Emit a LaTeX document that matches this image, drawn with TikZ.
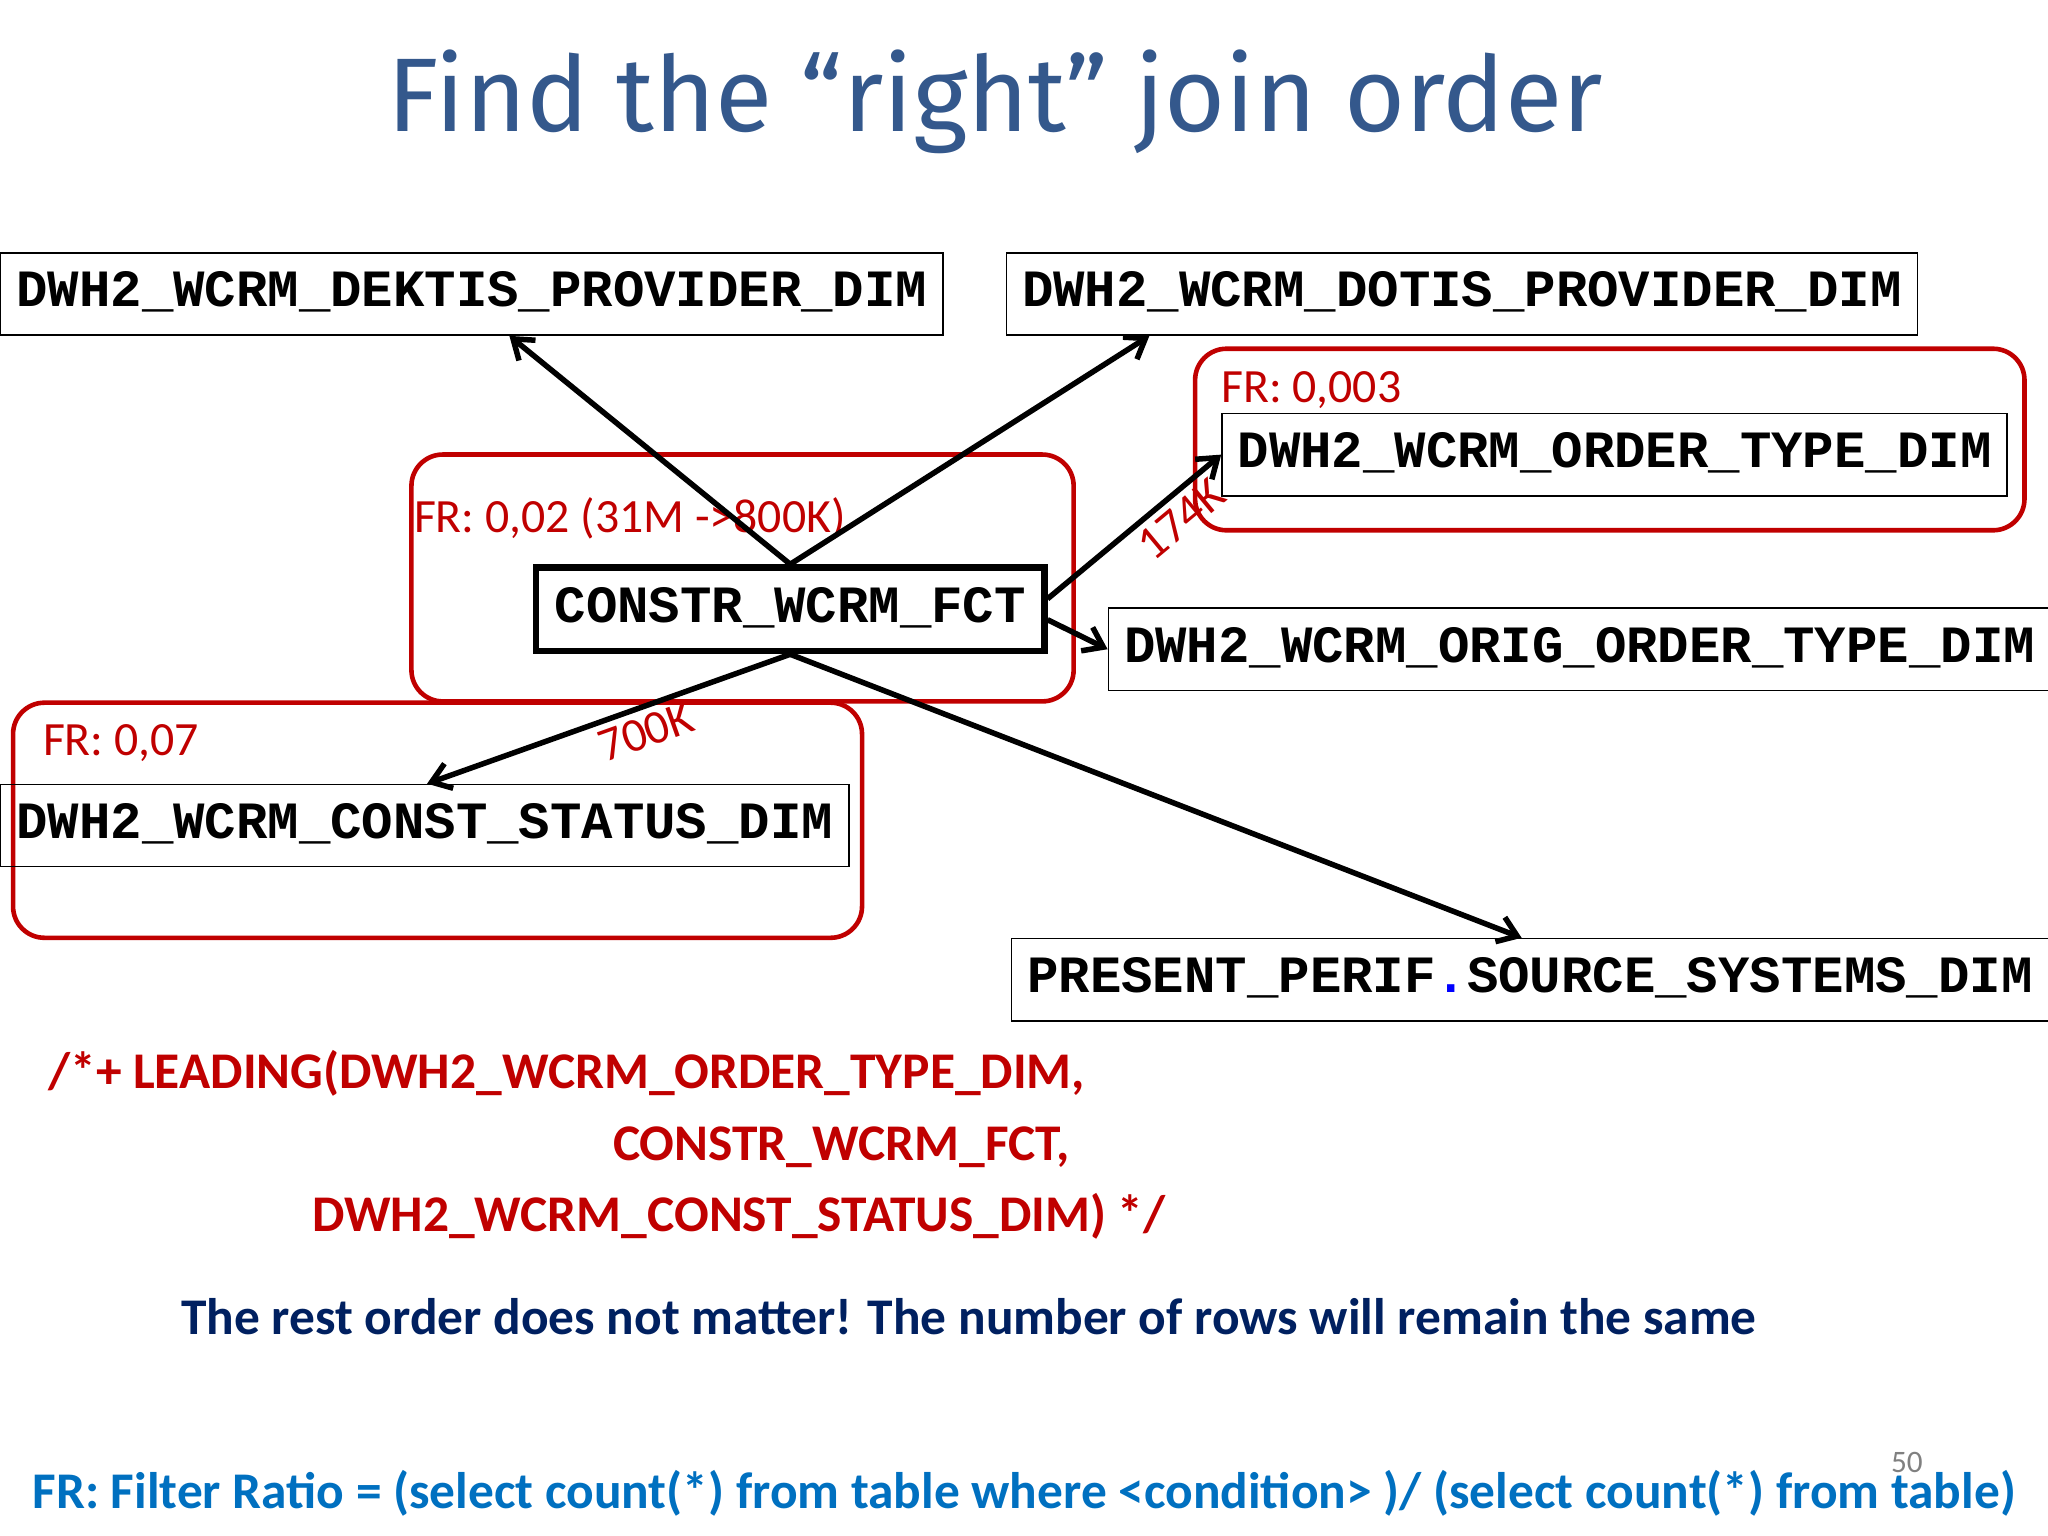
\documentclass[tikz,border=0pt]{standalone}
\usepackage{fontspec}
\setmainfont{Carlito}
\newfontfamily\monof{Liberation Mono}
\newfontfamily\titlef{Fira Sans}
\usetikzlibrary{arrows.meta,calc}
\definecolor{frred}{RGB}{192,0,0}
\definecolor{titleblue}{RGB}{52,88,140}
\definecolor{navy}{RGB}{0,32,96}
\definecolor{lblue}{RGB}{0,112,192}
\tikzset{
  tbl/.style={draw, thick, anchor=north west, font=\monof\bfseries\fontsize{28.5}{30}\selectfont,
    inner xsep=0.3cm, minimum height=1.575cm, text height=0.6cm},
  grp/.style={draw=frred, line width=2.5pt, rounded corners=0.6cm},
  fr/.style={text=frred, anchor=west, font=\fontsize{26}{30}\selectfont},
  joinarrow/.style={line width=3pt, -{Straight Barb[length=0.35cm,width=0.5cm]}},
  hint/.style={text=frred, font=\bfseries\fontsize{28}{32}\selectfont},
}
\begin{document}
\begin{tikzpicture}[x=0.025cm,y=-0.025cm]
  \useasboundingbox (0,0) rectangle (1568,1176);
  \node[text=titleblue, font=\titlef\fontsize{57}{66}\selectfont] (title) at (762,78) {Find the “right” join order};

  % filter groups
  \draw[grp] (915,267) rectangle (1550,406);
  \draw[grp] (315,348) rectangle (822,537);
  \draw[grp] (10,538) rectangle (660,718);
  \node[fr] (fr1) at (930,299) {FR: 0,003};
  \node[fr] (fr2) at (312,397) {FR: 0,02 (31M ->800K)};
  \node[fr] (fr3) at (28,569) {FR: 0,07};

  % tables
  \node[tbl, minimum width=17.925cm] (dektis) at (0,193) {DWH2\_WCRM\_DEKTIS\_PROVIDER\_DIM};
  \node[tbl, minimum width=17.35cm] (dotis) at (770,193) {DWH2\_WCRM\_DOTIS\_PROVIDER\_DIM};
  \node[tbl, minimum width=14.975cm] (ordtype) at (935,316) {DWH2\_WCRM\_ORDER\_TYPE\_DIM};
  \node[tbl, line width=3.5pt, minimum width=9.725cm, minimum height=1.6cm] (fct) at (408,432) {CONSTR\_WCRM\_FCT};
  \node[tbl, minimum width=17.925cm] (orig) at (848,465) {DWH2\_WCRM\_ORIG\_ORDER\_TYPE\_DIM};
  \node[tbl, minimum width=16.15cm] (status) at (0,600) {DWH2\_WCRM\_CONST\_STATUS\_DIM};
  \node[tbl, minimum width=19.7cm] (present) at (774,718) {PRESENT\_PERIF{\color{blue}.}SOURCE\_SYSTEMS\_DIM};

  % joins
  \draw[joinarrow] (fct.north) -- ($(dektis.south west)+(390,0)$);
  \draw[joinarrow] (fct.north) -- ($(dotis.south west)+(110,0)$);
  \draw[joinarrow] ($(fct.east)+(0,-8)$) -- node[pos=0.68, sloped, below, text=frred, font=\fontsize{26}{30}\selectfont] {174K} (ordtype.west);
  \draw[joinarrow] ($(fct.east)+(0,8)$) -- (orig.west);
  \draw[joinarrow] (fct.south) -- node[pos=0.42, sloped, below, text=frred, font=\fontsize{26}{30}\selectfont] {700K} ($(status.north west)+(327,0)$);
  \draw[joinarrow] (fct.south) -- ($(present.north west)+(391,0)$);

  % hint
  \node[hint, anchor=west] (h1) at (32,822) {/*+ LEADING(DWH2\_WCRM\_ORDER\_TYPE\_DIM,};
  \node[hint, anchor=east] (h2) at (824,878) {CONSTR\_WCRM\_FCT,};
  \node[hint, anchor=west] (h3) at (234,931) {DWH2\_WCRM\_CONST\_STATUS\_DIM) */};
  \node[text=navy, font=\bfseries\fontsize{28}{32}\selectfont] (rest) at (742,1008) {The rest order does not matter! The number of rows will remain the same};
  \node[text=gray, font=\fontsize{17}{20}\selectfont] (page) at (1460,1120) {50};
  \node[text=lblue, font=\bfseries\fontsize{28}{32}\selectfont, anchor=west] (def) at (20,1143) {FR: Filter Ratio = (select count(*) from table where <condition> )/ (select count(*) from table)};
\end{tikzpicture}
\end{document}
